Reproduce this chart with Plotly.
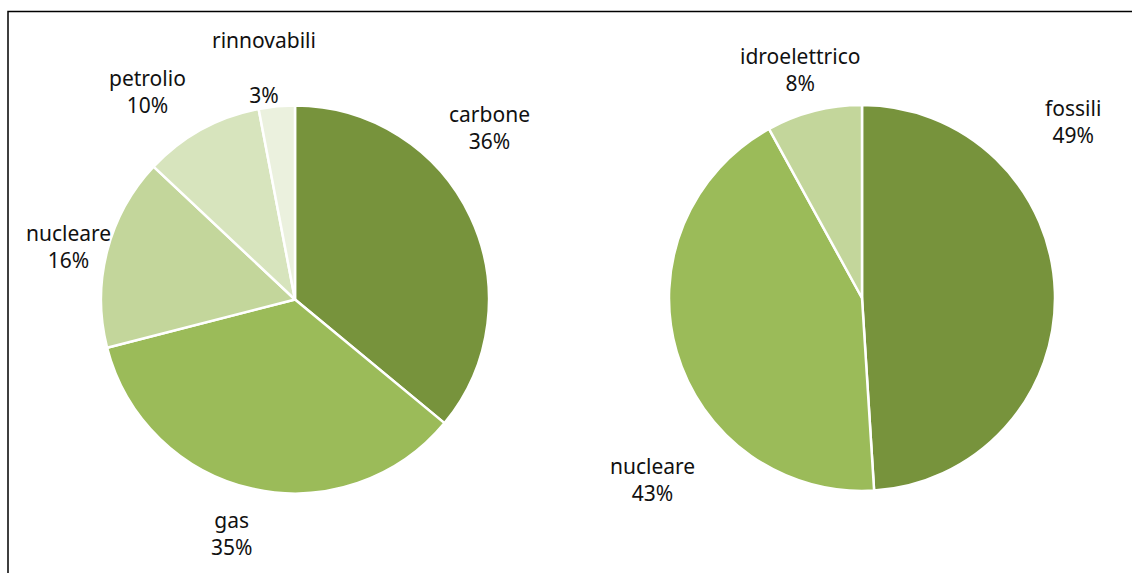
import plotly.graph_objects as go

W, H = 1132, 573

# Data
left_labels = ["carbone", "gas", "nucleare", "petrolio", "rinnovabili"]
left_values = [36, 35, 16, 10, 3]
right_labels = ["fossili", "nucleare", "idroelettrico"]
right_values = [49, 43, 8]

# Styles
left_colors = ["#77933C", "#9BBB59", "#C3D69B", "#D7E4BD", "#EBF1DE"]
right_colors = ["#77933C", "#9BBB59", "#C3D69B"]

# Label block centres (pixels) and extra blank lines between name and percent
left_label_pos = [(489, 127), (231, 533), (68, 246), (147, 91), (264, 68)]
left_label_gap = [1, 1, 1, 1, 2]
right_label_pos = [(1073, 122), (652, 479), (800, 70)]
right_label_gap = [1, 1, 1]

def dom(cx, cy, r):
    return dict(x=[(cx - r) / W, (cx + r) / W], y=[1 - (cy + r) / H, 1 - (cy - r) / H])

fig = go.Figure()
fig.add_trace(go.Pie(
    labels=left_labels, values=left_values, sort=False, direction="clockwise",
    rotation=0, textinfo="none", hoverinfo="label+percent",
    marker=dict(colors=left_colors, line=dict(color="white", width=2.5)),
    domain=dom(295, 299.5, 194), showlegend=False,
))
fig.add_trace(go.Pie(
    labels=right_labels, values=right_values, sort=False, direction="clockwise",
    rotation=0, textinfo="none", hoverinfo="label+percent",
    marker=dict(colors=right_colors, line=dict(color="white", width=2.5)),
    domain=dom(862, 298, 193), showlegend=False,
))

annotations = []
for labels, values, pos, gaps in [(left_labels, left_values, left_label_pos, left_label_gap),
                                  (right_labels, right_values, right_label_pos, right_label_gap)]:
    total = sum(values)
    for lab, v, (px, py), g in zip(labels, values, pos, gaps):
        txt = f"{lab}" + "<br>" * g + f"{round(v / total * 100)}%"
        annotations.append(dict(
            x=px / W, y=1 - py / H, xref="paper", yref="paper",
            text=txt, showarrow=False, xanchor="center", yanchor="middle",
            align="center", font=dict(family="Noto Sans", size=21, color="#111111"),
        ))

fig.update_layout(
    width=W, height=H, margin=dict(l=0, r=0, t=0, b=0),
    paper_bgcolor="white", plot_bgcolor="white",
    annotations=annotations,
    shapes=[dict(type="rect", xref="paper", yref="paper",
                 x0=8 / W, x1=1.2, y0=-0.2, y1=1 - 11.5 / H,
                 line=dict(color="black", width=1.5), fillcolor="rgba(0,0,0,0)")],
)

fig.write_html("out.html")
